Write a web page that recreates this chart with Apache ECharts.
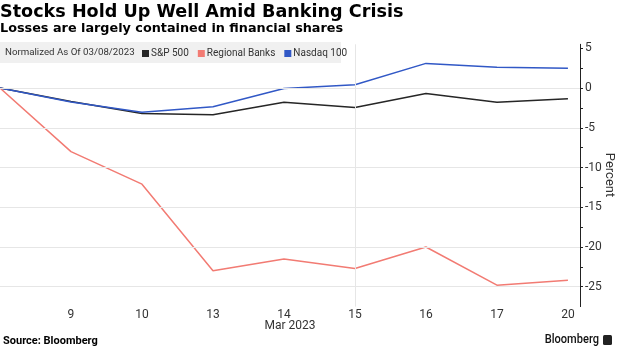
<!DOCTYPE html>
<html>
<head>
<meta charset="utf-8">
<script src="https://cdn.jsdelivr.net/npm/echarts@6/dist/echarts.min.js"></script>
<style>
  html, body { margin: 0; padding: 0; background: #fff; }
  #chart { width: 620px; height: 348px; }
</style>
</head>
<body>
<div id="chart"></div>
<script>
// Trading days in March 2023 (first day is the base date)
var days = ['8', '9', '10', '13', '14', '15', '16', '17', '20'];
// Percent change normalized as of 03/08/2023
var sp500 = [0, -1.7, -3.2, -3.35, -1.8, -2.45, -0.7, -1.8, -1.35];
var regionalBanks = [0, -8.0, -12.1, -23.0, -21.5, -22.7, -20.0, -24.8, -24.2];
var nasdaq100 = [0, -1.75, -3.05, -2.35, -0.05, 0.4, 3.1, 2.6, 2.5];
// Horizontal gridlines and the week separator
var gridValues = [0, -5, -10, -15, -20, -25];
var weekBreak = '15';

var FONT = 'Roboto, "Liberation Sans", sans-serif';
var TEXT = '#333333';

function pairs(arr) {
  return arr.map(function (v, i) { return [i, v]; });
}

var chart = echarts.init(document.getElementById('chart'), null, { renderer: 'canvas' });

var option = {
  animation: false,
  textStyle: { fontFamily: FONT },
  grid: { left: 0, right: 40, top: 44.3, bottom: 41.4, containLabel: false,
          outerBoundsMode: 'none' },
  graphic: [
    { type: 'text', left: 0, top: 3,
      style: { text: 'Stocks Hold Up Well Amid Banking Crisis', fill: '#000',
               font: 'bold 17.6px "DejaVu Sans", sans-serif' } },
    { type: 'text', left: 0, top: 22,
      style: { text: 'Losses are largely contained in financial shares', fill: '#000',
               font: 'bold 12.8px "DejaVu Sans", sans-serif' } },
    { type: 'rect', shape: { x: 0, y: 42, width: 341, height: 21 },
      style: { fill: '#f0f0f0' }, z: 5 },
    { type: 'text', x: 5, y: 52.5, z: 6,
      style: { text: 'Normalized As Of 03/08/2023', fill: TEXT,
               font: '9.7px ' + FONT, verticalAlign: 'middle' } },
    { type: 'text', x: 609, y: 175, rotation: -Math.PI / 2,
      style: { text: 'Percent', fill: TEXT, font: '13px ' + FONT,
               align: 'center', verticalAlign: 'middle' } },
    { type: 'text', x: 290, y: 326,
      style: { text: 'Mar 2023', fill: TEXT, font: '12px ' + FONT,
               align: 'center', verticalAlign: 'middle' } },
    { type: 'text', x: 3, y: 341,
      style: { text: 'Source: Bloomberg', fill: '#000',
               font: 'bold 11px ' + FONT, verticalAlign: 'middle' } },
    { type: 'text', x: 599, y: 340, scaleX: 0.82, originX: 0,
      style: { text: 'Bloomberg', fill: '#111', font: '500 13.5px ' + FONT,
               align: 'right', verticalAlign: 'middle' } },
    { type: 'rect', shape: { x: 603, y: 335, width: 9, height: 10, r: 1.5 },
      style: { fill: '#222' } }
  ],
  legend: {
    left: 142, top: 48.5, z: 7,
    icon: 'rect', itemWidth: 7, itemHeight: 7, itemGap: 9,
    padding: 0,
    textStyle: { color: TEXT, fontSize: 10, fontFamily: FONT, padding: [0, 0, 0, -3] },
    data: ['S&P 500', 'Regional Banks', 'Nasdaq 100']
  },
  xAxis: {
    type: 'value', min: 0, max: 8.17,
    axisLine: { show: false, onZero: false }, axisTick: { show: false },
    splitLine: { show: false },
    axisLabel: {
      customValues: [1, 2, 3, 4, 5, 6, 7, 8],
      formatter: function (v) { return days[Math.round(v)]; },
      color: TEXT, fontSize: 12, margin: 2
    }
  },
  yAxis: {
    type: 'value', position: 'right', min: -27.5, max: 5.5, interval: 2.5,
    axisLine: { show: true, onZero: false, lineStyle: { color: '#222', width: 1 } },
    axisTick: { show: true, length: 3, lineStyle: { color: '#222' } },
    splitLine: { show: false },
    axisLabel: {
      color: TEXT, fontSize: 12, margin: 5, showMaxLabel: false, showMinLabel: false,
      formatter: function (v) { return (v % 5 === 0) ? String(v) : ''; }
    }
  },
  series: [
    {
      name: 'S&P 500', type: 'line', data: pairs(sp500),
      showSymbol: false, color: '#262626', lineStyle: { width: 1.5 }, z: 3,
      markLine: {
        silent: true, symbol: 'none', label: { show: false },
        lineStyle: { color: '#e6e6e6', width: 1, type: 'solid' },
        data: gridValues.map(function (v) { return { yAxis: v }; })
          .concat([{ xAxis: days.indexOf(weekBreak) }])
      }
    },
    {
      name: 'Regional Banks', type: 'line', data: pairs(regionalBanks),
      showSymbol: false, color: '#f27b73', lineStyle: { width: 1.5 }, z: 3
    },
    {
      name: 'Nasdaq 100', type: 'line', data: pairs(nasdaq100),
      showSymbol: false, color: '#3158c6', lineStyle: { width: 1.5 }, z: 3
    }
  ]
};

chart.setOption(option);
</script>
</body>
</html>
